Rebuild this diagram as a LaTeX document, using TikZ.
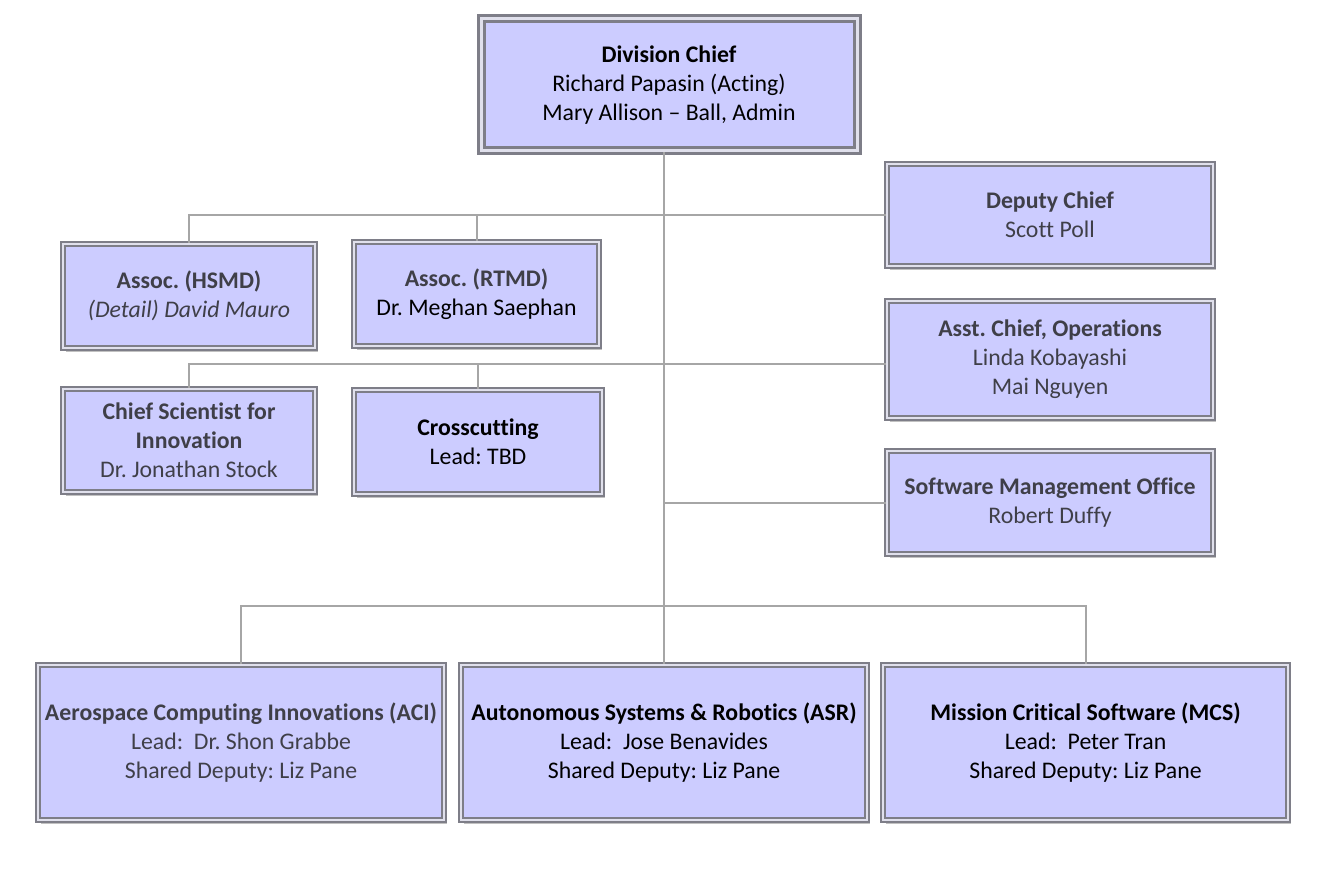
\documentclass[tikz,border=0pt]{standalone}
\usepackage{fontspec}
\setmainfont{Carlito}[Ligatures={NoCommon}]
\frenchspacing
\usetikzlibrary{shadows}
\definecolor{boxfill}{HTML}{CCCCFF}
\definecolor{boxline}{HTML}{7E7E88}
\definecolor{boxlight}{HTML}{E0E0EC}
\definecolor{darktext}{HTML}{3F3F48}
\definecolor{connline}{HTML}{A6A6A6}
\tikzset{
  unit/.style={draw=boxline, line width=2pt, double=boxlight, double distance=1.3pt,
    fill=boxfill, align=center, inner sep=0pt, text=black,
    font=\fontsize{23.8}{29}\selectfont,
    drop shadow={shadow xshift=3pt, shadow yshift=-4pt, opacity=0.35, fill=black!70}},
  greyunit/.style={unit, text=darktext},
  headunit/.style={unit, line width=3pt, double distance=3pt},
  conn/.style={draw=connline, line width=2pt}
}
\newcommand{\unit}[7][unit]{
\node[#1, minimum width=#5, minimum height=#6] (#2) at (#3,#4) {#7};}

\begin{document}
\begin{tikzpicture}[x=1pt,y=-1pt]
\useasboundingbox (0,0) rectangle (1322,890);

\unit[headunit]{chief}{669}{85}{376}{132}{\textbf{Division Chief}\\Richard Papasin (Acting)\\Mary Allison -- Ball, Admin}
\unit[greyunit]{deputy}{1050}{215}{326}{102}{\textbf{Deputy Chief}\\Scott Poll}
\unit[greyunit]{hsmd}{189}{296}{252}{104}{\textbf{Assoc. (HSMD)}\\\textit{(Detail) David Mauro}}
\unit[greyunit]{rtmd}{476.5}{294}{245}{104}{\textbf{Assoc. (RTMD)}\\\textcolor{black}{Dr. Meghan Saephan}}
\unit[greyunit]{ops}{1050}{359.5}{326}{117}{\textbf{Asst. Chief, Operations}\\Linda Kobayashi\\Mai Nguyen}
\unit[greyunit]{sci}{189}{440.5}{252}{103}{\textbf{Chief Scientist for}\\\textbf{Innovation}\\Dr. Jonathan Stock}
\unit{cross}{478}{442}{248}{104}{\textbf{Crosscutting}\\Lead: TBD}
\unit[greyunit]{smo}{1050}{502.5}{326}{103}{\textbf{Software Management Office}\\Robert Duffy}
\unit[greyunit]{aci}{241}{742.5}{406}{155}{\textbf{Aerospace Computing Innovations (ACI)}\\Lead:\ \ Dr. Shon Grabbe\\Shared Deputy: Liz Pane}
\unit{asr}{664}{742.5}{406}{155}{\textbf{Autonomous Systems \& Robotics (ASR)}\\Lead:\ \ Jose Benavides\\Shared Deputy: Liz Pane}
\unit{mcs}{1085.5}{742.5}{405}{155}{\textbf{Mission Critical Software (MCS)}\\Lead:\ \ Peter Tran\\Shared Deputy: Liz Pane}

% connectors
\coordinate (bus) at (664,606);
\coordinate (opsin) at ([yshift=-5pt]ops.west);
\draw[conn] (chief.south -| asr.north) -- (asr.north);
\draw[conn] (deputy.west) -| (hsmd.north);
\draw[conn] (rtmd.north) -- (rtmd.north |- deputy.west);
\draw[conn] (opsin) -| (sci.north);
\draw[conn] (cross.north) -- (cross.north |- opsin);
\draw[conn] (smo.west) -- (smo.west -| asr.north);
\draw[conn] (aci.north) |- (bus) -| (mcs.north);
\end{tikzpicture}
\end{document}
